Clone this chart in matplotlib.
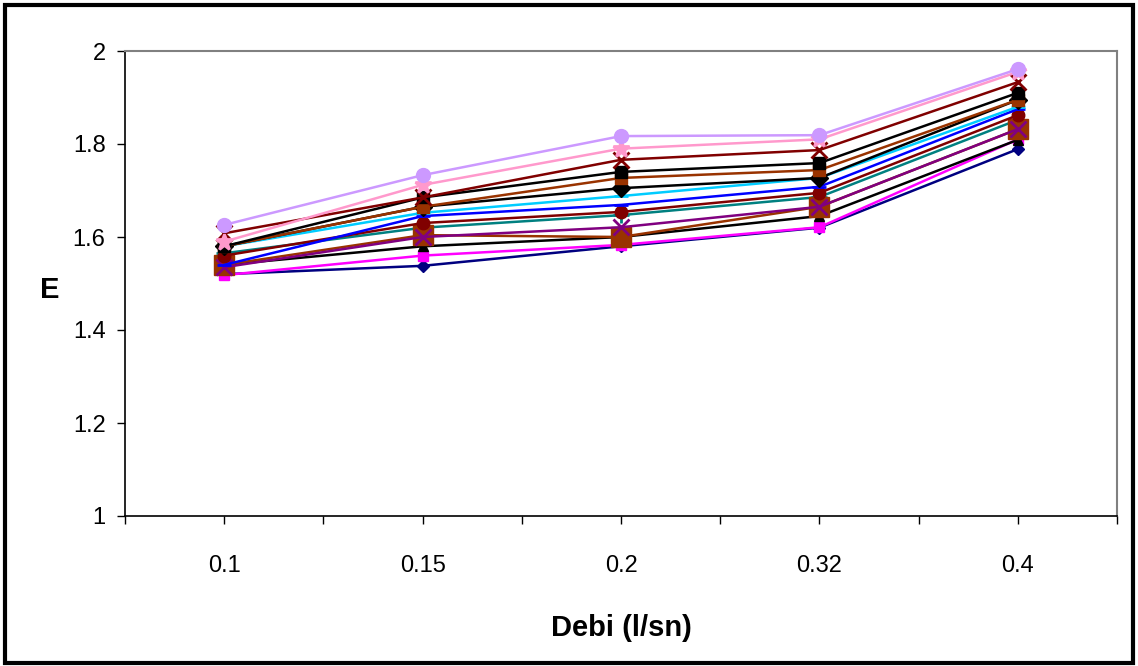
import matplotlib
matplotlib.use("Agg")
import matplotlib.pyplot as plt
from matplotlib.patches import Rectangle

plt.rcParams['font.family'] = ['Liberation Sans', 'DejaVu Sans']

categories = ["0.1", "0.15", "0.2", "0.32", "0.4"]

s_navy    = [1.520, 1.538, 1.580, 1.620, 1.789]
s_magenta = [1.518, 1.560, 1.583, 1.621, 1.810]
s_black1  = [1.540, 1.580, 1.600, 1.645, 1.809]
s_purple  = [1.535, 1.600, 1.621, 1.665, 1.832]
s_teal    = [1.565, 1.620, 1.647, 1.686, 1.852]
s_brownbig= [1.540, 1.604, 1.600, 1.665, 1.832]
s_maroonc = [1.560, 1.630, 1.654, 1.695, 1.862]
s_blue    = [1.540, 1.645, 1.669, 1.708, 1.875]
s_cyan    = [1.580, 1.652, 1.688, 1.727, 1.880]
s_blackd  = [1.580, 1.665, 1.705, 1.727, 1.895]
s_brown   = [1.580, 1.665, 1.727, 1.744, 1.895]
s_blacks  = [1.580, 1.685, 1.740, 1.759, 1.910]
s_maroonx = [1.608, 1.685, 1.766, 1.787, 1.933]
s_pink    = [1.590, 1.712, 1.790, 1.810, 1.955]
s_lilac   = [1.626, 1.733, 1.817, 1.819, 1.961]

series = [
    (s_navy, "#000080", "D", 6),
    (s_magenta, "#FF00FF", "s", 7),
    (s_black1, "#000000", "^", 7),
    (s_teal, "#008080", "+", 12),
    (s_brownbig, "#993300", "s", 14),
    (s_purple, "#800080", "x", 11),
    (s_maroonc, "#800000", "o", 9),
    (s_blue, "#0000FF", "_", 10),
    (s_cyan, "#00CCFF", "_", 10),
    (s_blackd, "#000000", "D", 9),
    (s_brown, "#993300", "s", 9),
    (s_blacks, "#000000", "s", 9),
    (s_maroonx, "#800000", "x", 11),
    (s_pink, "#FF99CC", "*", 12),
    (s_lilac, "#CC99FF", "o", 10),
]

fig = plt.figure(figsize=(11.38, 6.66), dpi=100)
ax = fig.add_axes([125/1138, 1-516/666, (1117-125)/1138, (516-51)/666])

x = list(range(len(categories)))
for vals, col, mk, ms in series:
    mew = 2 if mk in ("x", "+", "_", "*") else 1
    ax.plot(x, vals, color=col, lw=1.8, marker=mk, markersize=ms,
            markerfacecolor=col, markeredgecolor=col, markeredgewidth=mew)

ax.set_xlim(-0.5, 4.5)
ax.set_ylim(1, 2)
ax.set_yticks([1, 1.2, 1.4, 1.6, 1.8, 2])
ax.set_yticklabels(["1", "1.2", "1.4", "1.6", "1.8", "2"], fontsize=17)
ax.set_xticks(x)
ax.set_xticklabels(categories, fontsize=17)
ax.set_xticks([i - 0.5 for i in range(6)], minor=True)
ax.tick_params(axis='x', which='both', direction='out', length=6, width=1, pad=22)
ax.tick_params(axis='y', direction='out', length=6, width=1, pad=8)

for side in ("top", "right"):
    ax.spines[side].set_color("#808080")
    ax.spines[side].set_linewidth(1.5)
for side in ("left", "bottom"):
    ax.spines[side].set_color("black")
    ax.spines[side].set_linewidth(1.2)

ax.set_xlabel("Debi (l/sn)", fontsize=21, fontweight="bold")
ax.xaxis.set_label_coords(0.5, -0.21)
ax.set_ylabel("E", fontsize=21, fontweight="bold", rotation=0)
ax.yaxis.set_label_coords(-0.076, 0.455)

fig.patches.append(Rectangle((5/1138, 3/666), 1128/1138, 658/666, transform=fig.transFigure,
                             fill=False, edgecolor="black", linewidth=3))

fig.savefig("out.png", dpi=100)
